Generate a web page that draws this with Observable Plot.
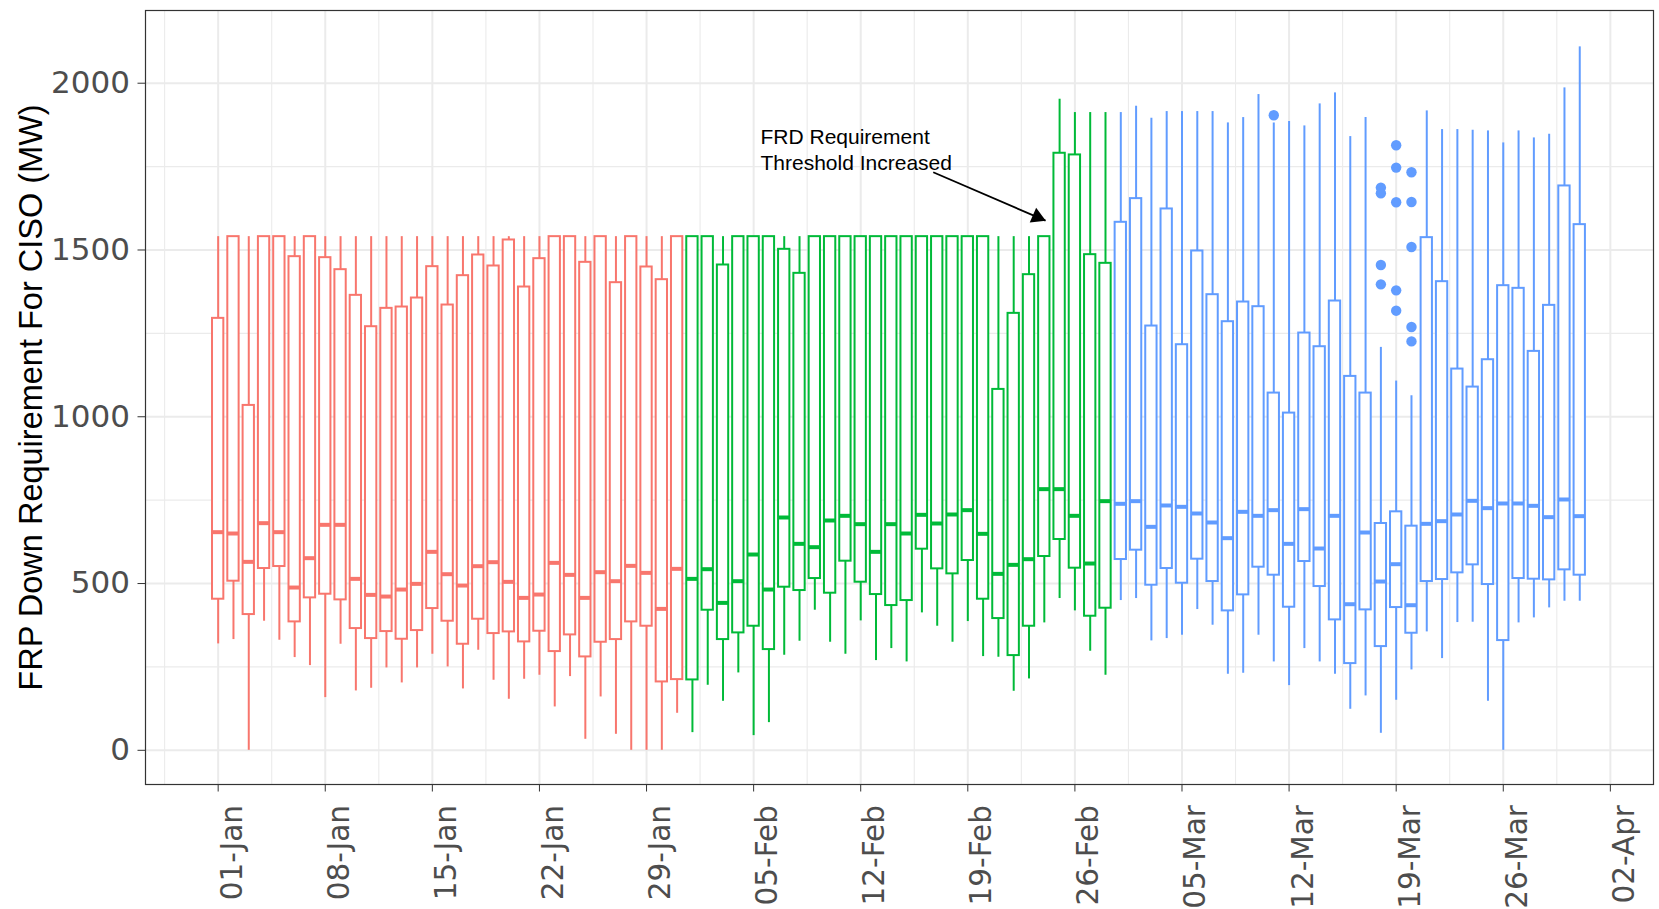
<!DOCTYPE html>
<html>
<head>
<meta charset="utf-8">
<script src="https://cdn.jsdelivr.net/npm/d3@7"></script>
<script src="https://cdn.jsdelivr.net/npm/@observablehq/plot@0.6"></script>
<style>
  html, body { margin: 0; padding: 0; background: #ffffff; }
  #chart svg { display: block; }
</style>
</head>
<body>
<div id="chart"></div>
<script>
// ---- data (daily box-plot statistics, 1 Jan – 31 Mar) ----
const firstDay = "2021-01-01";
const lows = [
  319,332,0,387,330,278,254,158,318,178,186,247,202,247,288,250,184,300,210,153,213,225,130,221,33,160,48,0,0,0,111,
  53,195,147,232,44,83,285,327,420,324,288,388,269,305,265,412,372,324,386,281,279,177,214,382,455,418,297,225,
  449,455,328,335,345,422,375,228,231,345,265,194,305,265,228,123,163,51,150,241,355,275,383,384,147,0,382,397,427,447,447
];
const q1s = [
  453,507,407,545,551,385,457,468,451,365,335,356,333,359,425,387,318,393,350,355,325,357,296,346,280,324,332,385,372,205,212,
  211,420,332,352,372,302,489,479,515,471,567,504,467,434,449,603,544,529,569,453,395,284,372,581,632,546,402,426,
  572,600,495,545,501,573,506,418,466,549,525,429,566,491,391,260,421,311,428,351,506,512,532,556,497,329,515,513,511,541,525
];
const medians = [
  654,650,565,681,654,488,576,676,676,514,466,461,482,499,595,528,494,552,564,505,457,467,562,526,457,534,507,553,532,424,544,
  514,543,442,507,587,482,698,619,609,689,703,678,595,678,650,706,680,707,720,649,529,556,573,783,783,703,560,747,
  739,747,670,734,730,710,683,636,715,703,720,619,723,605,703,438,653,506,558,435,679,687,707,748,726,740,740,733,699,752,702
];
const q3s = [
  1295,1540,1034,1540,1540,1480,1540,1477,1441,1364,1270,1325,1329,1356,1450,1335,1423,1485,1452,1530,1389,1474,1540,1540,1463,1540,1402,1540,1449,1411,1540,
  1540,1540,1455,1540,1540,1540,1502,1430,1540,1540,1540,1540,1540,1540,1540,1540,1540,1540,1540,1540,1082,1310,1426,1540,1790,1785,1486,1460,
  1583,1654,1272,1623,1216,1497,1366,1285,1344,1330,1071,1011,1251,1210,1347,1121,1071,680,715,672,1537,1405,1143,1089,1171,1393,1385,1196,1334,1692,1576
];
const highs = [
  1540,1540,1540,1540,1540,1540,1540,1540,1540,1540,1540,1540,1540,1540,1540,1540,1540,1540,1540,1540,1540,1540,1540,1540,1540,1540,1540,1540,1540,1540,1540,
  1540,1540,1540,1540,1540,1540,1540,1540,1540,1540,1540,1540,1540,1540,1540,1540,1540,1540,1540,1540,1540,1540,1540,1540,1952,1912,1912,1912,
  1912,1931,1895,1915,1915,1915,1915,1881,1897,1966,1881,1885,1872,1938,1971,1840,1897,1208,1107,1063,1917,1861,1861,1859,1857,1821,1857,1836,1847,1986,2109
];
const outlierDates = [
  "2021-03-11",
  "2021-03-18","2021-03-18","2021-03-18","2021-03-18",
  "2021-03-19","2021-03-19","2021-03-19","2021-03-19","2021-03-19",
  "2021-03-20","2021-03-20","2021-03-20","2021-03-20","2021-03-20"
];
const outlierValues = [
  1904,
  1687,1670,1455,1397,
  1814,1747,1643,1379,1318,
  1733,1644,1509,1269,1226
];
const monthNames = ["Jan", "Feb", "Mar"];
const monthColors = ["#F8766D", "#00BA38", "#619CFF"];
const xTickDates = ["2021-01-01","2021-01-08","2021-01-15","2021-01-22","2021-01-29","2021-02-05","2021-02-12",
                    "2021-02-19","2021-02-26","2021-03-05","2021-03-12","2021-03-19","2021-03-26","2021-04-02"];
const yTicks = [0, 500, 1000, 1500, 2000];
const yMinorTicks = [250, 750, 1250, 1750];
const yTitle = "FRP Down Requirement For CISO (MW)";
const annotationText = "FRD Requirement\nThreshold Increased";
const annotationTextPos = {date: "2021-02-05", dayOffset: 0.45, value: 1803};
const arrowFrom = {date: "2021-02-16", dayOffset: 0.74, value: 1733};
const arrowTo = {date: "2021-02-24", dayOffset: 0.08, value: 1588};

// ---- build table ----
const DAY = 864e5;
const start = new Date(firstDay + "T00:00:00Z");
const rows = lows.map((low, i) => {
  const date = d3.utcDay.offset(start, i);
  return {
    date, low, q1: q1s[i], median: medians[i], q3: q3s[i], high: highs[i],
    month: monthNames[date.getUTCMonth()]
  };
});
const parse = s => new Date(s + "T00:00:00Z");
const outliers = outlierDates.map((d, i) => ({
  date: parse(d), value: outlierValues[i], month: monthNames[parse(d).getUTCMonth()]
}));
const at = p => new Date(parse(p.date).getTime() + p.dayOffset * DAY);
const halfBox = 0.37 * DAY;
const majorX = xTickDates.map(parse);
const minorX = majorX.map(d => new Date(d.getTime() - 3.5 * DAY));
const colorOf = m => monthColors[monthNames.indexOf(m)];

const chart = Plot.plot({
  width: 1659,
  height: 909,
  marginLeft: 145,
  marginRight: 6,
  marginTop: 10,
  marginBottom: 125,
  style: {fontFamily: "DejaVu Sans", background: "#ffffff"},
  x: {type: "utc", domain: [new Date(start.getTime() - 4.75 * DAY), new Date(start.getTime() + 93.82 * DAY)]},
  y: {domain: [-102.5, 2218]},
  marks: [
    // grid
    Plot.ruleY(yMinorTicks, {stroke: "#EBEBEB", strokeWidth: 1.1}),
    Plot.ruleX(minorX, {stroke: "#EBEBEB", strokeWidth: 1.1}),
    Plot.ruleY(yTicks, {stroke: "#EBEBEB", strokeWidth: 2}),
    Plot.ruleX(majorX, {stroke: "#EBEBEB", strokeWidth: 2}),
    // whiskers
    Plot.ruleX(rows, {x: "date", y1: "low", y2: "q1", stroke: d => colorOf(d.month), strokeWidth: 2}),
    Plot.ruleX(rows, {x: "date", y1: "q3", y2: "high", stroke: d => colorOf(d.month), strokeWidth: 2}),
    // boxes
    Plot.rect(rows, {
      x1: d => new Date(d.date.getTime() - halfBox),
      x2: d => new Date(d.date.getTime() + halfBox),
      y1: "q1", y2: "q3",
      fill: "white", stroke: d => colorOf(d.month), strokeWidth: 2
    }),
    // medians
    Plot.ruleY(rows, {
      x1: d => new Date(d.date.getTime() - halfBox),
      x2: d => new Date(d.date.getTime() + halfBox),
      y: "median", stroke: d => colorOf(d.month), strokeWidth: 4
    }),
    // outliers
    Plot.dot(outliers, {x: "date", y: "value", fill: d => colorOf(d.month), r: 5.2, stroke: "none"}),
    // annotation
    Plot.link([0], {
      x1: () => at(arrowFrom), y1: () => arrowFrom.value,
      x2: () => at(arrowTo), y2: () => arrowTo.value,
      stroke: "black", strokeWidth: 1.8
    }),
    Plot.dot([0], {
      x: () => at(arrowTo), y: () => arrowTo.value,
      symbol: "triangle", r: 6, fill: "black", stroke: "none",
      rotate: 113.3, dx: -8.3, dy: -3.6
    }),
    Plot.text([annotationText], {
      x: () => at(annotationTextPos), y: () => annotationTextPos.value,
      text: d => d, textAnchor: "start", lineAnchor: "middle", lineHeight: 1.2,
      fontSize: 21, fontFamily: "Liberation Sans", fill: "black"
    }),
    // axes
    Plot.axisY({ticks: yTicks, tickFormat: d3.format("d"), tickSize: 7.5, tickPadding: 8, fontSize: 31,
                fill: "#4D4D4D", stroke: "#333333", label: null}),
    Plot.axisX({ticks: majorX, text: null, tickSize: 7.5, stroke: "#333333", label: null}),
    Plot.axisX({ticks: majorX, tickFormat: d3.utcFormat("%d-%b"), tickRotate: -90, textAnchor: "end",
                tickSize: 0, tickPadding: 20.5, fontSize: 29.5, dx: 14, fill: "#4D4D4D", label: null}),
    Plot.text([yTitle], {frameAnchor: "left", rotate: -90, dx: -114, text: d => d, textAnchor: "middle",
                fontSize: 32.5, fontFamily: "Liberation Sans", fill: "black"}),
    Plot.frame({stroke: "#333333", strokeWidth: 1.2})
  ]
});
document.getElementById("chart").appendChild(chart);
</script>
</body>
</html>
